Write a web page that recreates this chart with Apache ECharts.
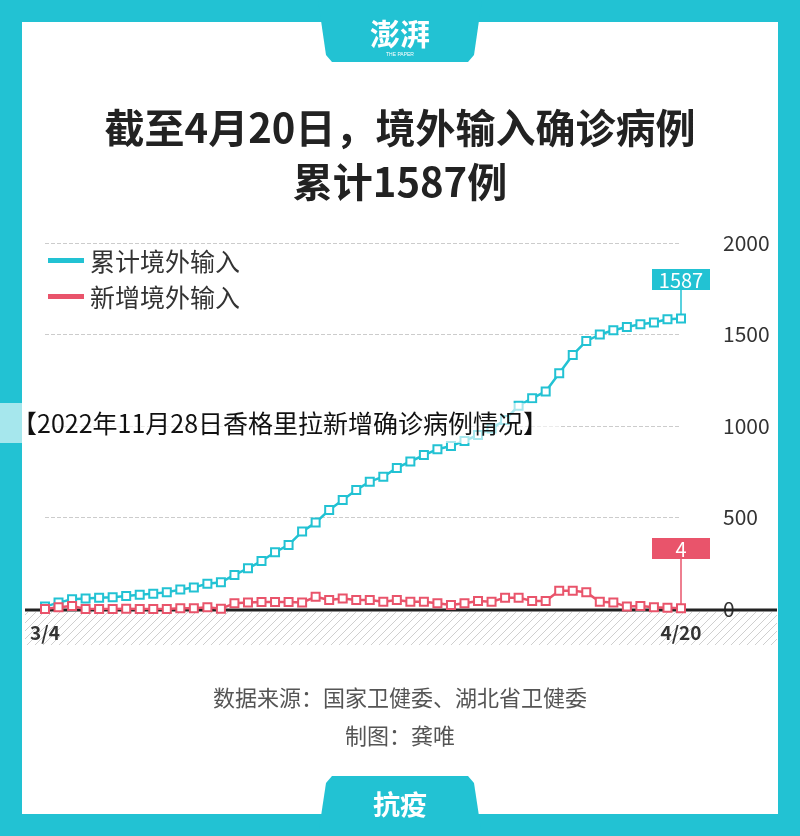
<!DOCTYPE html>
<html><head><meta charset="utf-8">
<script src="https://cdn.jsdelivr.net/npm/echarts@6/dist/echarts.min.js"></script>
<style>html,body{margin:0;padding:0;background:#fff}#c{width:800px;height:836px}</style>
</head><body><div id="c"></div>
<script>
const dates = [];
(function(){const d=new Date(2020,2,4);for(let i=0;i<48;i++){const t=new Date(d.getTime()+i*86400000);dates.push((t.getMonth()+1)+'/'+t.getDate());}})();
const cumulative = [13,35,53,58,62,64,71,78,84,91,106,118,138,146,186,222,262,310,350,423,472,541,596,650,696,723,771,
 806,841,873,891,918,951,987,1033,1111,1151,1189,1288,1388,1464,1500,1523,1541,1556,1566,1583,1587];
const daily = [0,9,16,0,0,0,2,0,0,0,4,4,9,2,31,35,38,38,38,35,67,49,58,49,49,40,49,
 40,40,31,22,31,44,40,62,62,44,44,100,100,91,40,36,13,16,9,7,4];
const yTicks = [0,500,1000,1500,2000];
const TEAL='#22c2d3', RED='#e9546b';

const pc=document.createElement('canvas');pc.width=8;pc.height=8;
const px=pc.getContext('2d');px.fillStyle='#fff';px.fillRect(0,0,8,8);px.strokeStyle='#cfcfcf';px.lineWidth=1;
px.beginPath();px.moveTo(0,8);px.lineTo(8,0);px.moveTo(-2,2);px.lineTo(2,-2);px.moveTo(6,10);px.lineTo(10,6);px.stroke();

const chart=echarts.init(document.getElementById('c'),null,{renderer:'canvas'});
const ff='"Noto Sans CJK SC","Noto Sans",sans-serif';
chart.setOption({
 animation:false,
 textStyle:{fontFamily:ff},
 grid:{left:45,right:119,top:243,bottom:227},
 xAxis:{type:'category',data:dates,boundaryGap:false,
  axisLine:{show:false},axisTick:{show:false},
  axisLabel:{interval:(i)=>i===0||i===47,margin:14,fontSize:19,color:'#333',fontWeight:'bold',fontFamily:ff}},
 yAxis:{type:'value',min:0,max:2000,interval:500,position:'right',
  axisLabel:{margin:42,align:'left',fontSize:21,color:'#333',fontFamily:ff,
   formatter:v=>yTicks.includes(v)?String(v):''},
  splitLine:{lineStyle:{type:'dashed',color:'#ccc'}}},
 series:[
  {type:'line',data:cumulative,symbol:'rect',symbolSize:8,showAllSymbol:true,
   lineStyle:{color:TEAL,width:2.5},itemStyle:{color:'#fff',borderColor:TEAL,borderWidth:2},z:3},
  {type:'line',data:daily,symbol:'rect',symbolSize:8,showAllSymbol:true,
   lineStyle:{color:RED,width:2.5},itemStyle:{color:'#fff',borderColor:RED,borderWidth:2},z:4}
 ]
});
function tag(val,text,color,topY){
 const p=chart.convertToPixel({seriesIndex:0},[47,val]);
 return [
  {type:'line',shape:{x1:p[0],y1:topY+20,x2:p[0],y2:p[1]-4},style:{stroke:color,lineWidth:1.5},z:5},
  {type:'rect',shape:{x:p[0]-29,y:topY,width:58,height:21},style:{fill:color},z:5},
  {type:'text',x:p[0],y:topY+11,style:{text:text,fill:'#fff',font:'20px "Noto Sans CJK SC"',align:'center',verticalAlign:'middle'},z:6}
 ];
}
const base=[
  {type:'rect',shape:{x:25,y:612,width:752,height:33},style:{fill:{image:pc,repeat:'repeat'}},z:-1},
  {type:'line',shape:{x1:25,y1:610,x2:777,y2:610},style:{stroke:'#222',lineWidth:3},z:1},
  {type:'rect',shape:{x:0,y:0,width:800,height:836},style:{fill:'none',stroke:TEAL,lineWidth:44},z:0},
  {type:'polygon',shape:{points:[[318,0],[482,0],[474,55],[468,62],[332,62],[326,55]]},style:{fill:TEAL}},
  {type:'text',x:400,y:34,style:{text:'澎湃',fill:'#fff',font:'bold 30px "Noto Sans CJK SC"',align:'center',verticalAlign:'middle'}},
  {type:'text',x:400,y:55,style:{text:'THE PAPER',fill:'#fff',font:'5px sans-serif',align:'center',verticalAlign:'middle'}},
  {type:'polygon',shape:{points:[[332,776],[468,776],[474,783],[482,836],[318,836],[326,783]]},style:{fill:TEAL}},
  {type:'text',x:400,y:805,style:{text:'抗疫',fill:'#fff',font:'bold 27px "Noto Sans CJK SC"',align:'center',verticalAlign:'middle'}},
  {type:'text',x:400,y:128,style:{text:'截至4月20日，境外输入确诊病例',fill:'#222',font:'bold 40px "Noto Sans CJK SC"',align:'center',verticalAlign:'middle'}},
  {type:'text',x:400,y:182,style:{text:'累计1587例',fill:'#222',font:'bold 40px "Noto Sans CJK SC"',align:'center',verticalAlign:'middle'}},
  {type:'rect',shape:{x:48,y:258,width:36,height:5},style:{fill:TEAL}},
  {type:'text',x:90,y:261,style:{text:'累计境外输入',fill:'#333',font:'25px "Noto Sans CJK SC"',verticalAlign:'middle'}},
  {type:'rect',shape:{x:48,y:294,width:36,height:5},style:{fill:RED}},
  {type:'text',x:90,y:297,style:{text:'新增境外输入',fill:'#333',font:'25px "Noto Sans CJK SC"',verticalAlign:'middle'}},
  {type:'text',x:400,y:698,style:{text:'数据来源：国家卫健委、湖北省卫健委',fill:'#555',font:'22px "Noto Sans CJK SC"',align:'center',verticalAlign:'middle'}},
  {type:'text',x:400,y:736,style:{text:'制图：龚唯',fill:'#555',font:'22px "Noto Sans CJK SC"',align:'center',verticalAlign:'middle'}},
  {type:'rect',z:99,shape:{x:0,y:403,width:560,height:40},style:{fill:'rgba(255,255,255,0.6)'}},
  {type:'text',x:12,y:423,z:100,style:{text:'【2022年11月28日香格里拉新增确诊病例情况】',fill:'#111',font:'25px "Noto Sans CJK SC"',verticalAlign:'middle'}}
];
chart.setOption({graphic:{elements:base.concat(tag(cumulative[47],String(cumulative[47]),TEAL,269),tag(daily[47],String(daily[47]),RED,538))}});
</script></body></html>
